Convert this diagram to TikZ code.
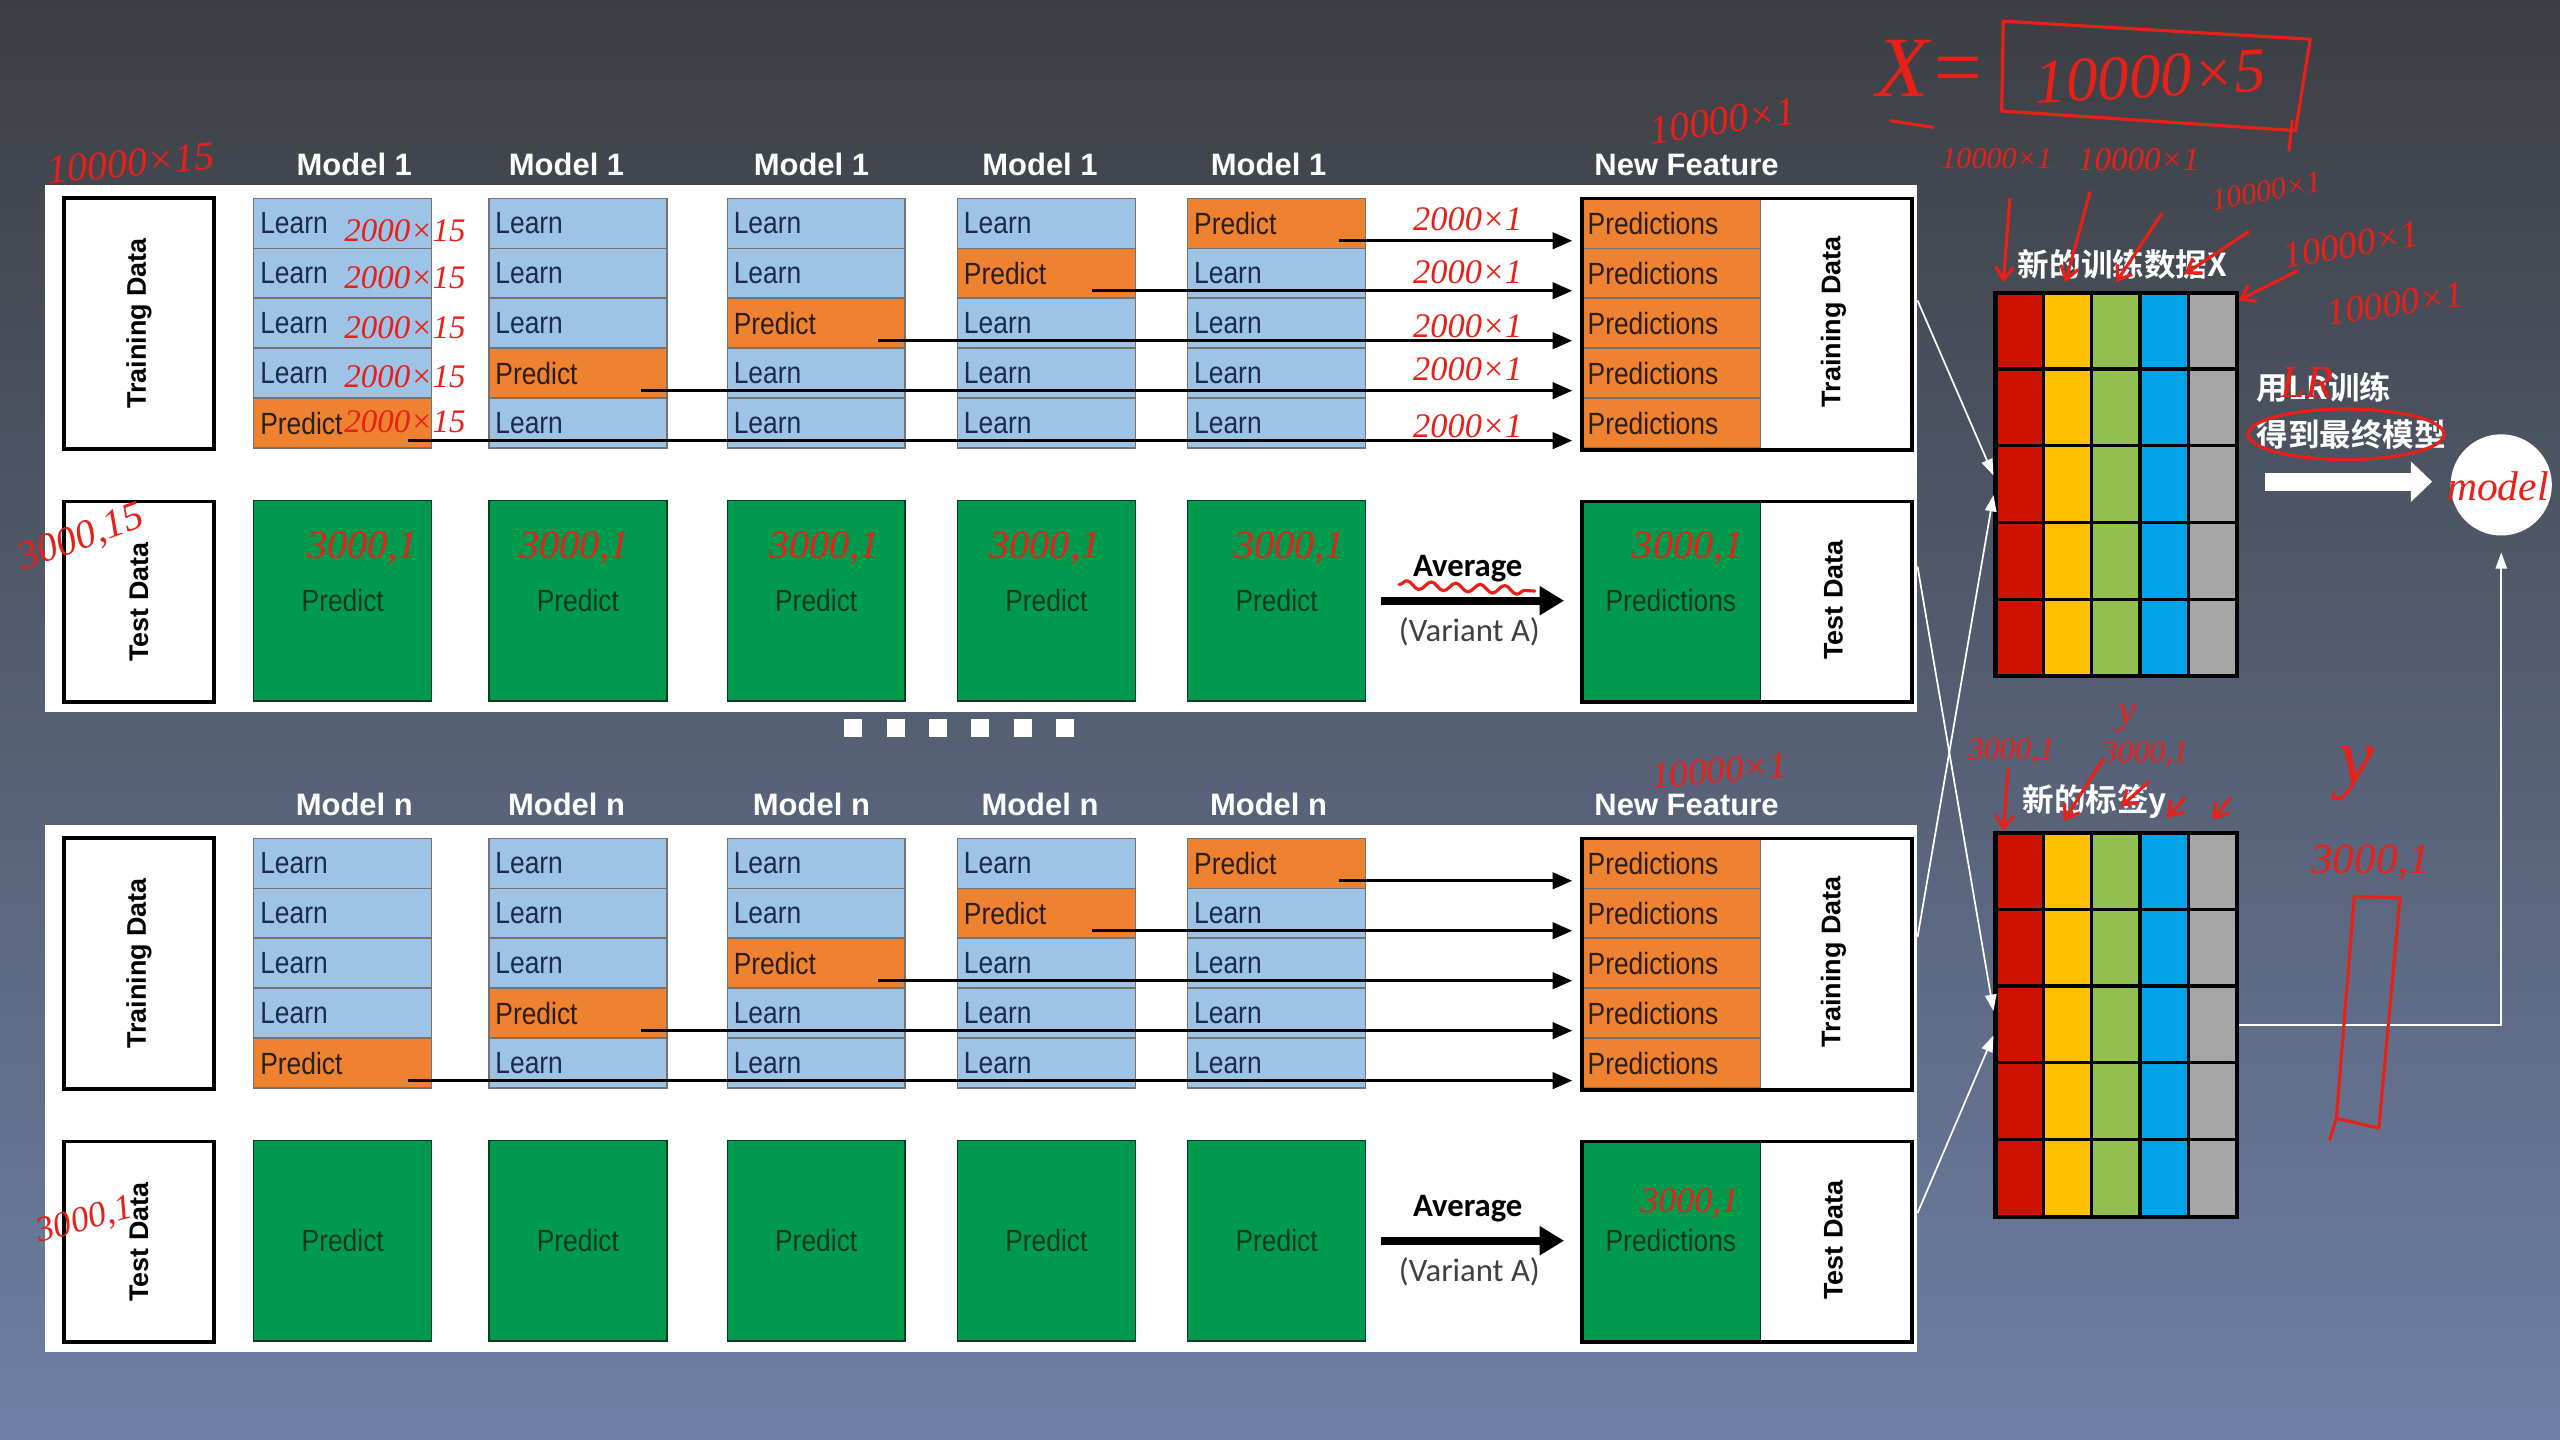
\documentclass[tikz,border=0pt]{standalone}
\usepackage{fontspec}
\setmainfont{Liberation Sans}
\newfontfamily\narrow{Liberation Sans}[FakeStretch=0.86]
\newfontfamily\carlito{Carlito}
\newfontfamily\cjk{Noto Sans CJK SC Bold}
\newfontfamily\hand{Liberation Serif}
\usetikzlibrary{arrows.meta,calc,decorations.pathmorphing}

\definecolor{learnblue}{RGB}{157,195,230}
\definecolor{predorange}{RGB}{238,130,48}
\definecolor{predgreen}{RGB}{0,154,78}
\definecolor{learntxt}{RGB}{28,43,74}
\definecolor{predtxt}{RGB}{46,30,16}
\definecolor{greentxt}{RGB}{12,58,30}
\definecolor{mred}{RGB}{206,18,0}
\definecolor{myellow}{RGB}{255,192,0}
\definecolor{mgreen}{RGB}{146,192,80}
\definecolor{mblue}{RGB}{0,162,232}
\definecolor{mgray}{RGB}{166,166,166}
\definecolor{ink}{RGB}{232,32,24}
\definecolor{bgtop}{RGB}{60,62,66}
\definecolor{bgmid}{RGB}{88,96,114}
\definecolor{bgbot}{RGB}{110,128,165}

\tikzset{
  panel/.style={fill=white, draw=none, anchor=north west, inner sep=0,
    minimum width=22.94cm, minimum height=6.46cm},
  head/.style={text=white, font=\bfseries\fontsize{10.8}{12}\selectfont},
  cell/.style={draw=black!55, line width=0.5pt, anchor=north west, inner ysep=0,
    inner xsep=0.08cm, minimum height=0.612cm, minimum width=2.18cm,
    text width=2.02cm, align=left, font=\narrow\fontsize{10.7}{11}\selectfont},
  learncell/.style={cell, fill=learnblue, text=learntxt},
  predcell/.style={cell, fill=predorange, text=predtxt},
  testcell/.style={draw=black!60!predgreen, line width=0.5pt, fill=predgreen,
    text=greentxt, anchor=north west, inner sep=0, minimum width=2.18cm,
    minimum height=2.46cm, font=\narrow\fontsize{10.7}{11}\selectfont},
  databox/.style={draw=black, line width=1.3pt, anchor=north west, inner sep=0,
    minimum width=1.84cm},
  outbox/.style={draw=black, line width=1.3pt, anchor=north west, inner sep=0,
    minimum width=4.04cm},
  vlabel/.style={rotate=90, font=\bfseries\fontsize{9.4}{10}\selectfont},
  arr/.style={line width=1.1pt, -{Triangle[length=0.24cm,width=0.2cm]}},
  bigarr/.style={line width=2.8pt, -{Triangle[length=0.3cm,width=0.34cm]}},
  mcell/.style={draw=black, line width=1.1pt, anchor=north west, inner sep=0,
    minimum width=0.592cm, minimum height=0.94cm},
  thinarr/.style={white, line width=0.6pt, -{Triangle[length=0.2cm,width=0.14cm]}},
  cjkw/.style={text=white, font=\cjk\fontsize{11}{12}\selectfont},
  hw/.style={text=ink, inner sep=0},
  inkline/.style={ink, line width=1.1pt, line cap=round, line join=round},
  inkarr/.style={inkline, -{Straight Barb[length=0.16cm,width=0.22cm]}}
}
\newcommand{\hfont}[1]{\hand\itshape\fontsize{#1}{#1}\selectfont}

\begin{document}
\begin{tikzpicture}[x=0.02cm, y=-0.02cm]
\useasboundingbox (0,0) rectangle (1568,882);
\shade[top color=bgtop, middle color=bgmid, bottom color=bgbot] (0,0) rectangle (1568,882);

% ---------- the two cross-validation panels ----------
\foreach \pn/\dy/\mname in {u/0/1, l/392/n} {
  \node[panel] (\pn-panel) at (27, {113+\dy}) {};
  \foreach \hx in {217,347,497,637,777}
    \node[head] (\pn-head\hx) at (\hx, {101+\dy}) {Model \mname};
  \node[head] (\pn-headnf) at (1033, {101+\dy}) {New Feature};

  \node[databox, minimum height=3.08cm] (\pn-train) at (38, {120+\dy}) {};
  \node[vlabel] (\pn-trainlab) at (\pn-train.center) {Training Data};
  \node[databox, minimum height=2.46cm] (\pn-test) at (38, {306+\dy}) {};
  \node[vlabel] (\pn-testlab) at (\pn-test.center) {Test Data};

  \foreach \c/\cx in {1/155,2/299,3/445,4/586,5/727} {
    \foreach \r in {1,...,5} {
      \pgfmathtruncatemacro\pr{6-\c}
      \ifnum\r=\pr
        \node[predcell] (\pn-\c-\r) at (\cx, {121+(\r-1)*30.6+\dy}) {Predict};
      \else
        \node[learncell] (\pn-\c-\r) at (\cx, {121+(\r-1)*30.6+\dy}) {Learn};
      \fi
    }
    \node[testcell] (\pn-g\c) at (\cx, {306+\dy}) {Predict};
  }

  % new feature column
  \foreach \r in {1,...,5}
    \node[predcell, minimum width=2.2cm, text width=2.04cm] (\pn-p\r)
      at (968, {121+(\r-1)*30.6+\dy}) {Predictions};
  \node[outbox, minimum height=3.08cm] (\pn-nftrain) at (968, {120.5+\dy}) {};
  \node[vlabel] (\pn-nftrainlab) at (1123, {197+\dy}) {Training Data};
  \node[testcell, minimum width=2.2cm] (\pn-gp) at (968, {306+\dy}) {Predictions};
  \node[outbox, minimum height=2.46cm] (\pn-nftest) at (968, {306+\dy}) {};
  \node[vlabel] (\pn-nftestlab) at (1123, {367.5+\dy}) {Test Data};

  % out-of-fold predictions to the new feature
  \foreach \c/\sx in {1/15,2/16,3/17,4/27,5/17} {
    \pgfmathtruncatemacro\pr{6-\c}
    \coordinate (\pn-s\c) at ([shift={(-\sx,-5)}]\pn-\c-\pr.south east);
    \draw[arr, shorten >=0.1cm] (\pn-s\c) -- (\pn-s\c -| \pn-p\pr.west);
  }

  % averaging of the test predictions
  \draw[bigarr] ([xshift=0.18cm]\pn-g5.east) -- ([xshift=-0.2cm]\pn-gp.west);
  \node[font=\carlito\bfseries\fontsize{11.4}{12}\selectfont] (\pn-avg)
    at (899, {348+\dy}) {Average};
  \node[font=\carlito\fontsize{11.4}{12}\selectfont, text=black!75] (\pn-var)
    at (900, {387+\dy}) {(Variant A)};
}

% dots between the panels
\foreach \i in {0,...,5}
  \node[fill=white, minimum size=0.22cm, inner sep=0] (dot\i) at ({522.5+26*\i}, 446) {};

% ---------- new training matrix X and label matrix y ----------
\foreach \m/\my in {X/178, Y/509} {
  \foreach \c/\col in {1/mred,2/myellow,3/mgreen,4/mblue,5/mgray}
    \foreach \r in {1,...,5}
      \node[mcell, fill=\col] (m\m-\c-\r) at ({1221+(\c-1)*29.6}, {\my+(\r-1)*47}) {};
  \node[draw=black, line width=1.4pt, anchor=north west, inner sep=0,
    minimum width=2.96cm, minimum height=4.7cm] (m\m) at (1221, \my) {};
}
\node[cjkw] (labX) at (1300, 162) {新的训练数据X};
\node[cjkw] (labY) at (1283, 491) {新的标签y};

\node[cjkw, anchor=west] (lr1) at (1376, 237) {用LR训练};
\node[cjkw, anchor=west] (lr2) at (1376, 266) {得到最终模型};

\node[circle, fill=white, minimum size=1.24cm, inner sep=0] (model) at (1532, 297) {};
\coordinate (lrstart) at (1387, 295);
\draw[white, line width=0.22cm, shorten >=0.22cm,
  -{Triangle[length=0.26cm,width=0.48cm]}] (lrstart) -- (lrstart -| model.west);

% white connectors
\draw[thinarr] ($(u-panel.north east)+(0,71)$) -- ($(mX.west)+(0,-5.5)$);
\draw[thinarr] ($(l-panel.north east)+(0,69)$) -- ($(mX.west)+(0,6.5)$);
\draw[thinarr] ($(u-panel.north east)+(0,234)$) -- ($(mY.west)+(0,-8.5)$);
\draw[thinarr] ($(l-panel.north east)+(0,238)$) -- ($(mY.west)+(0,6.5)$);
\draw[thinarr, shorten >=0.2cm] (mY.east) -| (model.south);

% ---------- handwritten notes ----------
\node[hw, font=\hfont{14}, rotate=5] (n1) at (80,100) {10000×15};
\foreach \yy in {141,170,201,231,258}
  \node[hw, font=\hfont{11.5}] (n2-\yy) at (248,\yy) {2000×15};
\foreach \yy in {134,167,200,226,261}
  \node[hw, font=\hfont{12}] (n3-\yy) at (899,\yy) {2000×1};
\node[hw, font=\hfont{14}, rotate=8] (n4) at (1055,74) {10000×1};
\node[hw, font=\hfont{14}, rotate=20] (n5) at (50,330) {3000,15};
\foreach \xx in {222,352,505,640,790,1034}
  \node[hw, font=\hfont{14}] (n6-\xx) at (\xx,336) {3000,1};
\draw[inkline, decorate, decoration={snake, amplitude=0.05cm, segment length=0.3cm}]
  (857,358) -- (940,362);
\node[hw, font=\hfont{13}, rotate=5] (n7) at (1053,472) {10000×1};
\node[hw, font=\hfont{12.5}] (n8) at (1035,737) {3000,1};
\node[hw, font=\hfont{12.5}, rotate=15] (n9) at (52,748) {3000,1};

% X = 10000 x 5
\node[hw, font=\hfont{30}] (nX) at (1183,42) {X=};
\draw[inkline] (1158,74) -- (1184,78);
\draw[inkline] (1227,13) -- (1415,24) -- (1406,80) -- (1226,68) -- cycle;
\draw[inkline] (1404,74) -- (1402,92);
\node[hw, font=\hfont{22}, rotate=3] (nX5) at (1317,47) {10000×5};
\node[hw, font=\hfont{10.5}] (c1) at (1223,97) {10000×1};
\node[hw, font=\hfont{11.5}] (c2) at (1310,98) {10000×1};
\node[hw, font=\hfont{10.5}, rotate=10] (c3) at (1388,117) {10000×1};
\node[hw, font=\hfont{13}, rotate=10] (c4) at (1440,150) {10000×1};
\node[hw, font=\hfont{13}, rotate=8] (c5) at (1467,186) {10000×1};
\draw[inkarr] (1231,122) -- (1227,173);
\draw[inkarr] (1280,118) -- (1265,173);
\draw[inkarr] (1324,131) -- (1296,173);
\draw[inkarr] (1377,142) -- (1338,168);
\draw[inkarr] (1407,166) -- (1371,184);

\node[hw, font=\hfont{16}] (nLR) at (1413,234) {LR};
\draw[inkline] (1437,266) ellipse [x radius=1.2cm, y radius=0.31cm];
\node[hw, font=\hfont{14.5}] (nmodel) at (1530,298) {model};

% notes around the label matrix
\node[hw, font=\hfont{11}] (d1) at (1232,460) {3000,1};
\node[hw, font=\hfont{11}] (d2) at (1314,462) {3000,1};
\node[hw, font=\hfont{14}] (d3) at (1303,440) {y};
\draw[inkarr] (1230,471) -- (1227,509);
\draw[inkarr] (1288,465) -- (1264,503);
\draw[inkarr] (1316,479) -- (1299,494);
\draw[inkarr] (1338,489) -- (1327,501);
\draw[inkarr] (1366,489) -- (1355,502);
\node[hw, font=\hfont{28}] (d4) at (1443,474) {y};
\node[hw, font=\hfont{15}] (d5) at (1452,528) {3000,1};
\draw[inkline] (1442,549) -- (1470,550) -- (1457,691) -- (1431,685) -- cycle;
\draw[inkline] (1431,685) -- (1427,698);
\end{tikzpicture}
\end{document}
